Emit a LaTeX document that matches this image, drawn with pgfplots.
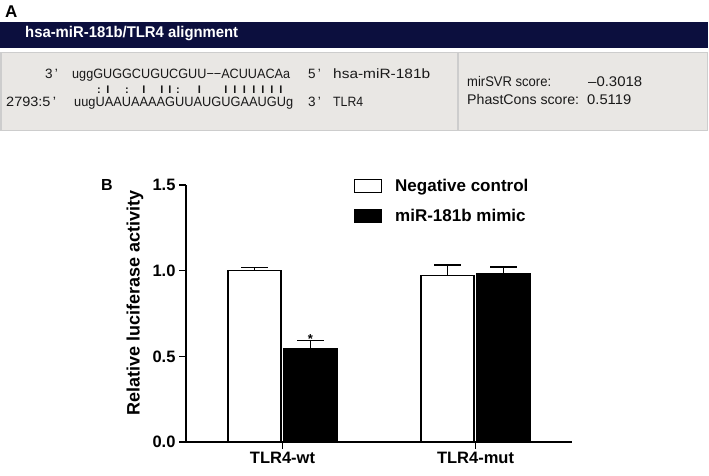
\documentclass[border=0pt]{standalone}
\usepackage{fontspec}
\setmainfont{Liberation Sans}
\usepackage{pgfplots}
\pgfplotsset{compat=1.18}
\definecolor{navy}{RGB}{12,15,62}
\definecolor{panelgray}{RGB}{233,231,228}
\definecolor{panelborder}{RGB}{205,205,205}
\definecolor{txt}{RGB}{25,25,25}
\newcommand\fitw[2]{\resizebox{#1}{\height}{#2}}
\newcommand\seqfont{\fontsize{13.5}{15}\selectfont}
\newcommand\scfont{\fontsize{14}{16}\selectfont}
\begin{document}
\begin{tikzpicture}[x=1pt,y=1pt]
\useasboundingbox (0,0) rectangle (709,476);
% ---------- panel A ----------
\node[anchor=base west, inner sep=0, font=\bfseries\fontsize{17}{20}\selectfont] at (5,476-17.5) {A};
\fill[navy] (0,476-47.7) rectangle (708,476-21.7);
\node[anchor=base west, inner sep=0, text=white, font=\bfseries\fontsize{15.5}{18}\selectfont] at (25,476-38) {\fitw{213pt}{hsa-miR-181b/TLR4 alignment}};
\draw[panelborder, fill=panelgray, line width=1.5pt] (0.75,476-130.5) rectangle (707.5,476-52.7);
\draw[panelborder, line width=1.5pt] (458,476-130.5) -- (458,476-52.7);
% line 1
\node[anchor=base west, inner sep=0, font=\seqfont, text=txt] at (45,476-79) {3\,’};
\node[anchor=base west, inner sep=0, font=\seqfont, text=txt] at (72,476-79) {\fitw{218pt}{uggGUGGCUGUCGUU−−ACUUACAa}};
\node[anchor=base west, inner sep=0, font=\seqfont, text=txt] at (308,476-79) {5\,’};
\node[anchor=base west, inner sep=0, font=\seqfont, text=txt] at (333,476-79) {\fitw{97pt}{hsa-miR-181b}};
% pairing line
\foreach \xx/\ch in {99/:,108/I,127/:,144/I,162/I,170/I,178/:,199.5/I,226/I,235/I,244.5/I,254/I,263/I,272/I,281/I}
  \node[anchor=base, inner sep=0, text=txt, font=\bfseries\fontsize{11}{13}\selectfont] at (\xx,476-93.5) {\ch};
% line 3
\node[anchor=base west, inner sep=0, font=\seqfont, text=txt] at (6,476-107) {\fitw{50pt}{2793:5\,’}};
\node[anchor=base west, inner sep=0, font=\seqfont, text=txt] at (74,476-107) {\fitw{219pt}{uugUAAUAAAAGUUAUGUGAAUGUg}};
\node[anchor=base west, inner sep=0, font=\seqfont, text=txt] at (308,476-107) {3\,’};
\node[anchor=base west, inner sep=0, font=\seqfont, text=txt] at (333,476-107) {\fitw{30pt}{TLR4}};
% scores
\node[anchor=base west, inner sep=0, font=\scfont, text=txt] at (467,476-86.5) {\fitw{84pt}{mirSVR score:}};
\node[anchor=base west, inner sep=0, font=\scfont, text=txt] at (588,476-86.5) {\fitw{54pt}{–0.3018}};
\node[anchor=base west, inner sep=0, font=\scfont, text=txt] at (467,476-104.3) {\fitw{112pt}{PhastCons score:}};
\node[anchor=base west, inner sep=0, font=\scfont, text=txt] at (587,476-104.3) {\fitw{44pt}{0.5119}};
% ---------- panel B ----------
\node[anchor=base west, inner sep=0, font=\bfseries\fontsize{16}{19}\selectfont] at (101,476-190.5) {B};
\begin{axis}[
  at={(186pt,34pt)}, anchor=south west,
  scale only axis, width=386pt, height=257pt,
  xmin=-0.5, xmax=1.5, ymin=0, ymax=1.5,
  axis x line*=bottom, axis y line*=left,
  axis line style={line width=1.5pt, -},
  tick style={line width=1.5pt, black},
  major tick length=7pt, tick align=outside,
  xtick={0,1}, xticklabels={TLR4-wt,TLR4-mut},
  ytick={0,0.5,1,1.5}, yticklabels={0.0,0.5,1.0,1.5},
  ticklabel style={font=\bfseries\fontsize{16.5}{19}\selectfont},
  ylabel={Relative luciferase activity},
  ylabel style={font=\bfseries\fontsize{18}{21}\selectfont, at={(axis description cs:-0.132,0.541)}, anchor=center},
  ybar=3pt, bar width=53pt,
  legend style={draw=none, fill=none, at={(axis description cs:0.435,1.025)}, anchor=north west,
    font=\bfseries\fontsize{17}{20}\selectfont, inner sep=0pt, outer sep=0pt, row sep=16pt,
    nodes={inner sep=0pt},
    /tikz/every odd column/.append style={column sep=13pt}},
  legend cell align=left,
  legend image code/.code={\draw[#1, line width=1.3pt] (0pt,-6.5pt) rectangle (27pt,6.5pt);},
]
\addplot[fill=white, draw=black, line width=1.3pt,
  error bars/.cd, y dir=plus, y explicit,
  error bar style={line width=1.3pt, black},
  error mark options={line width=1.3pt, mark size=13.5pt, black, rotate=90}]
  coordinates {(0,1.0) +- (0,0.02) (1,0.973) +- (0,0.06)};
\addplot[fill=black, draw=black, line width=1.3pt,
  error bars/.cd, y dir=plus, y explicit,
  error bar style={line width=1.3pt, black},
  error mark options={line width=1.3pt, mark size=13.5pt, black, rotate=90}]
  coordinates {(0,0.543) +- (0,0.048) (1,0.982) +- (0,0.039)};
\legend{Negative control, miR-181b mimic}
\node[anchor=base, inner sep=0, font=\bfseries\fontsize{13}{15}\selectfont, xshift=28pt, yshift=-2.5pt] at (axis cs:0,0.591) {*};
\end{axis}
\end{tikzpicture}
\end{document}
